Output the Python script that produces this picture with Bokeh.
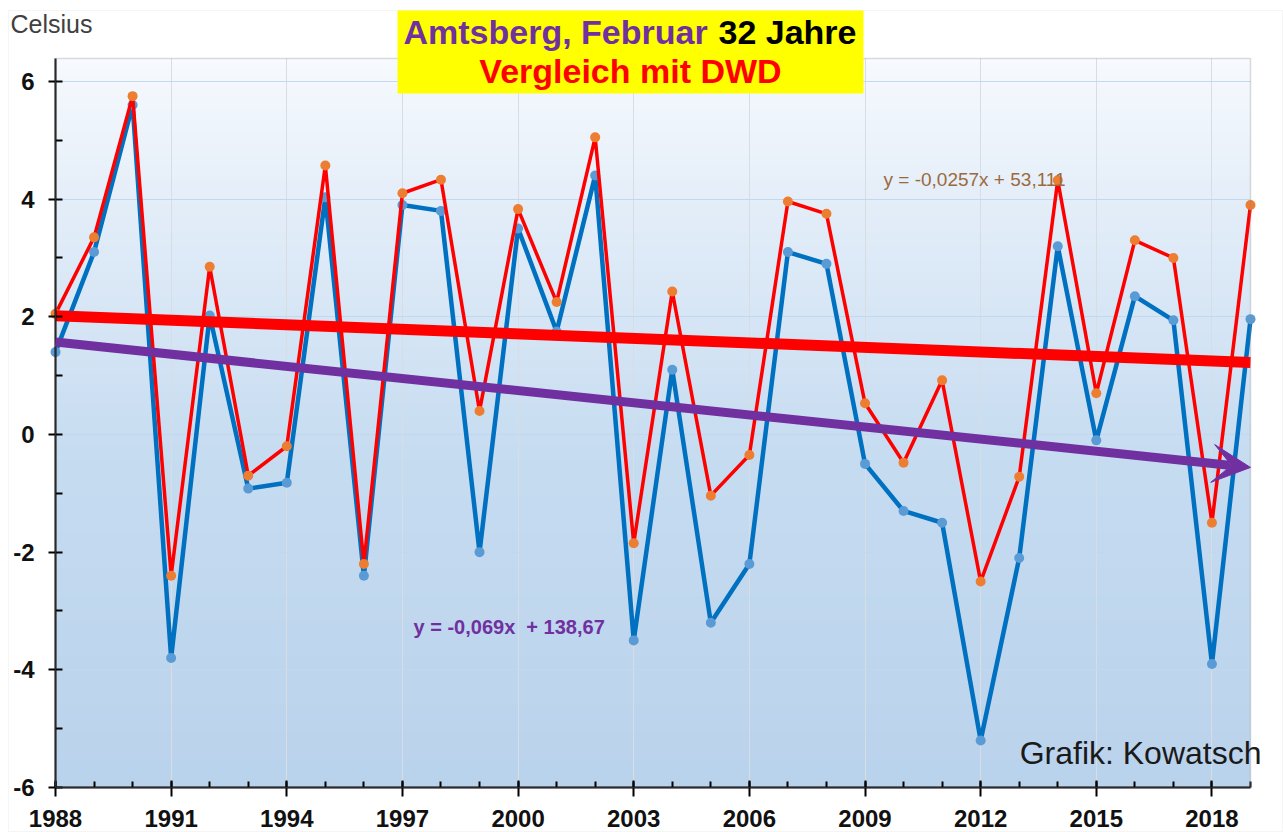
import numpy as np
from bokeh.plotting import figure
from bokeh.models import FixedTicker, Label, BoxAnnotation, Arrow, VeeHead, Range1d
from bokeh.embed import file_html
from bokeh.resources import INLINE

# ---------------- data ----------------
years = list(range(1988, 2020))
dwd = [2.05, 3.35, 5.75, -2.4, 2.85, -0.7, -0.2, 4.57, -2.2, 4.1,
       4.33, 0.4, 3.83, 2.25, 5.05, -1.85, 2.43, -1.04, -0.35, 3.96,
       3.75, 0.53, -0.48, 0.92, -2.5, -0.72, 4.32, 0.7, 3.3, 3.0,
       -1.5, 3.9]
amtsberg = [1.4, 3.1, 5.6, -3.8, 2.02, -0.92, -0.82, 4.03, -2.4, 3.9,
            3.8, -2.0, 3.5, 1.75, 4.4, -3.5, 1.1, -3.2, -2.2, 3.1,
            2.9, -0.5, -1.3, -1.5, -5.2, -2.1, 3.2, -0.1, 2.35, 1.94,
            -3.9, 1.96]
dwd_trend_coef = [-0.0257, 53.111]          # slope, intercept
amtsberg_trend_years = [1988, 2019]
amtsberg_trend = [1.57, -0.56]
x_major = list(range(1988, 2019, 3))
x_minor = list(range(1988, 2020))
y_major = [-6, -4, -2, 0, 2, 4, 6]
y_minor = [-5, -3, -1, 1, 3, 5]

title_1a = "Amtsberg, Februar"
title_1b = "32 Jahre"
title_2 = "Vergleich mit DWD"
eq_dwd = "y = -0,0257x + 53,111"
eq_amts = "y = -0,069x \u00a0+ 138,67"
credit = "Grafik: Kowatsch"
unit = "Celsius"

# ---------------- layout constants (page pixels) ----------------
W, H = 1283, 832
FL, FR, FT, FB = 55, 1250, 58, 787
X0, X1 = 1988, 2019
Y0, Y1 = -6, 6.39


def px2x(px):
    return X0 + (px - FL) * (X1 - X0) / (FR - FL)


def py2y(py):
    return Y0 + (FB - py) * (Y1 - Y0) / (FB - FT)


FONT = "Liberation Sans"
PURPLE = "#7030a0"

p = figure(width=W, height=H,
           x_range=Range1d(px2x(0), px2x(W)), y_range=Range1d(py2y(H), py2y(0)),
           output_backend="svg", toolbar_location=None,
           min_border_left=0, min_border_right=0, min_border_top=0, min_border_bottom=0)
p.background_fill_color = "white"
p.border_fill_color = "white"
p.outline_line_color = None

# outer light frame of the picture
p.add_layout(BoxAnnotation(left=px2x(8), right=px2x(1282), top=py2y(10), bottom=py2y(831),
                           fill_color=None, line_color="#dedede", line_width=1))

# gradient background of the plot area
N = 256
img = np.empty((N, 1), dtype=np.uint32)
view = img.view(dtype=np.uint8).reshape((N, 1, 4))
stops_t = [0.0, 0.2, 0.55, 1.0]              # 0 = top
stops_c = [(247, 250, 254), (228, 238, 249), (198, 220, 241), (186, 211, 236)]
for i in range(N):
    t = 1.0 - i / (N - 1)                  # row 0 is bottom
    for c in range(3):
        view[i, 0, c] = int(np.interp(t, stops_t, [s[c] for s in stops_c]))
    view[i, 0, 3] = 255
p.image_rgba(image=[img], x=X0, y=Y0, dw=X1 - X0, dh=Y1 - Y0, level="image")

# axes (drawn at the plot-area edges)
p.xaxis.ticker = FixedTicker(ticks=x_major, minor_ticks=x_minor)
p.yaxis.ticker = FixedTicker(ticks=y_major, minor_ticks=y_minor)
p.xaxis.fixed_location = Y0
p.yaxis.fixed_location = X0
p.xaxis.bounds = (X0, X1)
p.yaxis.bounds = (Y0, Y1)
p.yaxis.major_label_overrides = {v: str(v) for v in y_major}
p.xgrid.ticker = FixedTicker(ticks=x_major)
p.ygrid.ticker = FixedTicker(ticks=y_major)
p.xgrid.bounds = (X0, X1)
p.ygrid.bounds = (Y0, Y1)
p.xgrid.cross_bounds = (Y0, Y1)
p.ygrid.cross_bounds = (X0, X1)
p.xgrid.grid_line_color = "#d8dde4"
p.ygrid.grid_line_color = "#c3d7ee"
for ax in (p.xaxis, p.yaxis):
    ax.axis_line_color = "black"
    ax.axis_line_width = 2
    ax.major_tick_line_color = "black"
    ax.major_tick_line_width = 2
    ax.minor_tick_line_color = "black"
    ax.minor_tick_line_width = 2
    ax.major_label_text_font = FONT
    ax.major_label_text_font_style = "bold"
    ax.major_label_text_font_size = "24px"
    ax.major_label_text_color = "#111111"
p.xaxis.major_tick_in = 7
p.xaxis.major_tick_out = 9
p.xaxis.minor_tick_in = 6
p.xaxis.minor_tick_out = 0
p.xaxis.major_label_standoff = 13
p.yaxis.major_tick_in = 7
p.yaxis.major_tick_out = 7
p.yaxis.minor_tick_in = 7
p.yaxis.minor_tick_out = 0
p.yaxis.major_label_standoff = 14

# plot-area outline (top and right edges visible)
p.add_layout(BoxAnnotation(left=X0, right=X1, top=Y1, bottom=Y0,
                           fill_color=None, line_color="#8a8a8a", line_width=1.5))

# data series
p.line(years, amtsberg, line_color="#0070c0", line_width=4.5)
p.scatter(years, amtsberg, size=10, fill_color="#5b9bd5", line_color=None)
p.line(years, dwd, line_color="#ff0000", line_width=3.5)
p.scatter(years, dwd, size=10, fill_color="#ed7d31", line_color=None)

# trend lines
ty = [dwd_trend_coef[0] * y + dwd_trend_coef[1] for y in (X0, X1)]
p.line([X0, X1], ty, line_color="#ff0000", line_width=11)
p.add_layout(Arrow(end=VeeHead(size=38, line_color=PURPLE, fill_color=PURPLE, line_width=1),
                   x_start=amtsberg_trend_years[0], y_start=amtsberg_trend[0],
                   x_end=amtsberg_trend_years[1], y_end=amtsberg_trend[1],
                   line_color=PURPLE, line_width=9))

# title box
p.add_layout(BoxAnnotation(left=px2x(397), right=px2x(863), top=py2y(10), bottom=py2y(93),
                           fill_color="#ffff00", fill_alpha=1.0, line_color=None))


def label(txt, px, py, color, size, bold=False, align="left"):
    # py is the wanted baseline; shift for how the svg text baseline lands
    shift = 0.37 * size
    p.add_layout(Label(x=px2x(px), y=py2y(py - shift), text=txt, text_color=color,
                       text_font=FONT, text_font_size=f"{size}px",
                       text_font_style="bold" if bold else "normal",
                       text_align=align, text_baseline="alphabetic"))


label(title_1a, 403, 44, PURPLE, 34, True)
label(title_1b, 856, 44, "#000000", 34, True, "right")
label(title_2, 630, 83, "#ff0000", 34, True, "center")
label(unit, 10, 33, "#404040", 25)
label(eq_dwd, 883, 186, "#9a6a3e", 19)
label(eq_amts, 413, 634, PURPLE, 20, True)
label(credit, 1261, 764, "#1a1a1a", 32, False, "right")

open("out.html", "w").write(file_html(p, INLINE))
